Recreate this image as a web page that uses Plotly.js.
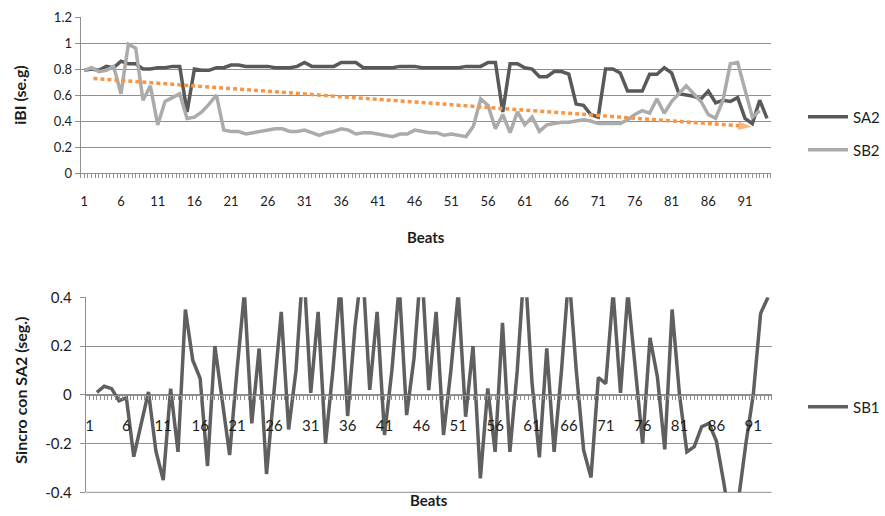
<!DOCTYPE html>
<html>
<head>
<meta charset="utf-8">
<script src="https://cdn.plot.ly/plotly-3.0.1.min.js"></script>
<style>
  html, body { margin: 0; padding: 0; background: #ffffff; }
  #chart { width: 885px; height: 516px; }
</style>
</head>
<body>
<div id="chart"></div>
<script>
// Inter-beat interval per beat (seconds), beats 1..94
const sa2 = [
  0.79, 0.80, 0.79, 0.82, 0.81, 0.86, 0.84, 0.84, 0.80, 0.80,
  0.81, 0.81, 0.82, 0.82, 0.47, 0.80, 0.79, 0.79, 0.81, 0.81,
  0.83, 0.83, 0.82, 0.82, 0.82, 0.82, 0.81, 0.81, 0.81, 0.82,
  0.85, 0.82, 0.82, 0.82, 0.82, 0.85, 0.85, 0.85, 0.81, 0.81,
  0.81, 0.81, 0.81, 0.82, 0.82, 0.82, 0.81, 0.81, 0.81, 0.81,
  0.81, 0.81, 0.82, 0.82, 0.82, 0.85, 0.85, 0.47, 0.84, 0.84,
  0.81, 0.80, 0.74, 0.74, 0.78, 0.78, 0.76, 0.53, 0.52, 0.45,
  0.43, 0.80, 0.80, 0.77, 0.63, 0.63, 0.63, 0.76, 0.76, 0.81,
  0.77, 0.61, 0.60, 0.59, 0.57, 0.63, 0.54, 0.56, 0.55, 0.58,
  0.42, 0.38, 0.56, 0.42
];

const sb2 = [
  0.79, 0.81, 0.78, 0.79, 0.82, 0.61, 0.99, 0.96, 0.56, 0.67,
  0.37, 0.55, 0.58, 0.61, 0.42, 0.43, 0.47, 0.53, 0.60, 0.33,
  0.32, 0.32, 0.30, 0.31, 0.32, 0.33, 0.34, 0.34, 0.32, 0.32,
  0.33, 0.31, 0.29, 0.31, 0.32, 0.34, 0.33, 0.30, 0.31, 0.31,
  0.30, 0.29, 0.28, 0.30, 0.30, 0.33, 0.32, 0.31, 0.31, 0.29,
  0.30, 0.29, 0.28, 0.36, 0.57, 0.52, 0.34, 0.45, 0.31, 0.47,
  0.37, 0.43, 0.32, 0.37, 0.38, 0.39, 0.39, 0.40, 0.41, 0.40,
  0.38, 0.38, 0.38, 0.38, 0.41, 0.45, 0.48, 0.46, 0.57, 0.46,
  0.55, 0.61, 0.67, 0.61, 0.55, 0.45, 0.42, 0.56, 0.84, 0.85,
  0.65, 0.43, 0.48
];

// Synchrony of SB1 against SA2 (seconds), beats 1..93 (beat 1 has no value)
const sb1 = [
  null, 0.010, 0.035, 0.025, -0.025, -0.012, -0.254, -0.120, 0.012, -0.230,
  -0.350, 0.025, -0.234, 0.350, 0.142, 0.067, -0.292, 0.200, -0.020, -0.247,
  0.100, 0.420, -0.117, 0.190, -0.325, 0.000, 0.340, -0.142, 0.100, 0.550,
  0.008, 0.340, -0.200, 0.100, 0.450, -0.087, 0.280, 0.540, 0.020, 0.340,
  -0.165, 0.100, 0.450, -0.083, 0.150, 0.550, 0.019, 0.340, -0.165, 0.100,
  0.420, -0.090, 0.200, -0.343, 0.026, -0.234, 0.295, -0.234, 0.100, 0.550,
  0.050, -0.257, 0.190, -0.234, 0.100, 0.500, 0.100, -0.227, -0.339, 0.071,
  0.046, 0.420, 0.008, 0.420, 0.100, -0.200, 0.234, 0.074, -0.224, 0.350,
  0.000, -0.234, -0.213, -0.131, -0.117, -0.190, -0.360, -0.550, -0.430, -0.200,
  0.000, 0.334, 0.400
];

// Downward trend arrow over the interval plot (beat, seconds)
const trendBeat = [2.25, 91.9];
const trendIbi = [0.727, 0.356];

// Axis ticks and labels
const beatTicks = [1, 6, 11, 16, 21, 26, 31, 36, 41, 46, 51, 56, 61, 66, 71, 76, 81, 86, 91];
const beatLabels = ['1', '6', '11', '16', '21', '26', '31', '36', '41', '46', '51', '56', '61', '66', '71', '76', '81', '86', '91'];
const ibiTicks = [0, 0.2, 0.4, 0.6, 0.8, 1, 1.2];
const ibiLabels = ['0', '0.2', '0.4', '0.6', '0.8', '1', '1.2'];
const syncTicks = [-0.4, -0.2, 0, 0.2, 0.4];
const syncLabels = ['-0.4', '-0.2', '0', '0.2', '0.4'];

const W = 885, H = 516;
const px = v => v / W;          // horizontal pixel -> paper fraction
const py = v => 1 - v / H;      // vertical pixel -> paper fraction

const FONT = 'Lato, "Open Sans", "DejaVu Sans", sans-serif';
const GRID = '#8f8f8f';
const TXT = '#1c1c1c';

// Synchrony plot frame (pixels) and its value range
const syncTop = 297.3, syncBottom = 492.3;
const syncRange = [syncTicks[0], syncTicks[syncTicks.length - 1]];

const traces = [
  {
    type: 'scatter', mode: 'lines', name: 'SA2',
    y: sa2, x0: 1, dx: 1, xaxis: 'x', yaxis: 'y',
    line: { color: '#595959', width: 3.5 },
    legend: 'legend'
  },
  {
    type: 'scatter', mode: 'lines', name: 'SB2',
    y: sb2, x0: 1, dx: 1, xaxis: 'x', yaxis: 'y',
    line: { color: '#ababab', width: 3.5 },
    legend: 'legend2'
  },
  {
    type: 'scatter', mode: 'lines+markers', name: 'tendencia',
    x: trendBeat, y: trendIbi, xaxis: 'x', yaxis: 'y',
    line: { color: '#F79646', width: 3.5, dash: '4px,3px' },
    marker: { symbol: ['circle', 'arrow'], size: [0, 14], angleref: 'previous',
              color: '#F79646', line: { width: 0 } },
    showlegend: false, hoverinfo: 'skip'
  },
  {
    type: 'scatter', mode: 'lines', name: 'SB1',
    y: sb1, x0: 1, dx: 1, xaxis: 'x2', yaxis: 'y2',
    connectgaps: false,
    line: { color: '#5f5f5f', width: 3.5 },
    legend: 'legend3'
  }
];

const xCommon = {
  tickmode: 'array', tickvals: beatTicks, ticktext: beatLabels,
  ticks: 'outside', ticklen: 4, tickcolor: GRID, tickwidth: 1,
  minor: { tickmode: 'linear', tick0: 0.5, dtick: 0.5, ticks: 'outside',
           ticklen: 4, tickcolor: GRID, tickwidth: 1, showgrid: false },
  showline: true, linecolor: GRID, linewidth: 1,
  showgrid: false, zeroline: false, fixedrange: true
};

const layout = {
  width: W, height: H,
  margin: { l: 0, r: 0, t: 0, b: 0 },
  paper_bgcolor: '#ffffff', plot_bgcolor: '#ffffff',
  font: { family: FONT, color: TXT },
  showlegend: true,
  xaxis: Object.assign({}, xCommon, {
    domain: [px(82), px(784)], range: [0.5, 94.5], anchor: 'y',
    tickfont: { size: 13, color: TXT }, ticklabelstandoff: 12
  }),
  yaxis: {
    domain: [py(173), py(17)], range: [0, 1.2], anchor: 'x',
    tickmode: 'array', tickvals: ibiTicks, ticktext: ibiLabels,
    ticks: 'outside', ticklen: 5, tickcolor: GRID,
    showline: true, linecolor: GRID, linewidth: 1,
    showgrid: true, gridcolor: GRID, gridwidth: 1, zeroline: false,
    tickfont: { size: 13, color: TXT }, ticklabelstandoff: 0
  },
  xaxis2: Object.assign({}, xCommon, {
    domain: [px(87.3), px(785)], range: [0.5, 93.5],
    anchor: 'free', position: py(394.7),
    tickfont: { size: 15, color: TXT }, ticklabelstandoff: 13
  }),
  yaxis2: {
    domain: [py(syncBottom), py(syncTop)], range: syncRange, anchor: 'x2',
    tickmode: 'array', tickvals: syncTicks, ticktext: syncLabels,
    ticks: 'outside', ticklen: 5, tickcolor: GRID,
    showline: true, linecolor: GRID, linewidth: 1,
    showgrid: true, gridcolor: GRID, gridwidth: 1, zeroline: false,
    tickfont: { size: 15, color: TXT }, ticklabelstandoff: 5
  },
  // floor gridline of the synchrony plot, along the bottom of its frame
  shapes: [
    { type: 'line', layer: 'below', xref: 'x2 domain', x0: 0, x1: 1,
      yref: 'paper', y0: py(syncBottom), y1: py(syncBottom),
      line: { color: GRID, width: 1 } }
  ],
  legend: {
    x: px(817), xanchor: 'left', y: py(117), yanchor: 'middle',
    font: { size: 15, color: TXT }, bgcolor: 'rgba(0,0,0,0)', itemwidth: 40
  },
  legend2: {
    x: px(817), xanchor: 'left', y: py(150), yanchor: 'middle',
    font: { size: 15, color: TXT }, bgcolor: 'rgba(0,0,0,0)', itemwidth: 40
  },
  legend3: {
    x: px(817), xanchor: 'left', y: py(407), yanchor: 'middle',
    font: { size: 15, color: TXT }, bgcolor: 'rgba(0,0,0,0)', itemwidth: 40
  },
  annotations: [
    { text: '<b>iBI (se.g)</b>', xref: 'paper', yref: 'paper',
      x: px(19), y: py(95), xanchor: 'center', yanchor: 'middle',
      textangle: -90, showarrow: false, font: { size: 16, color: TXT } },
    { text: '<b>Beats</b>', xref: 'paper', yref: 'paper',
      x: px(433), y: py(237), xanchor: 'center', yanchor: 'middle',
      showarrow: false, font: { size: 15, color: TXT } },
    { text: '<b>Sincro con SA2 (seg.)</b>', xref: 'paper', yref: 'paper',
      x: px(20), y: py(390), xanchor: 'center', yanchor: 'middle',
      textangle: -90, showarrow: false, font: { size: 16, color: TXT } },
    { text: '<b>Beats</b>', xref: 'paper', yref: 'paper',
      x: px(436), y: py(500), xanchor: 'center', yanchor: 'middle',
      showarrow: false, font: { size: 15, color: TXT } }
  ]
};

Plotly.newPlot('chart', traces, layout, { staticPlot: true, displayModeBar: false });
</script>
</body>
</html>
